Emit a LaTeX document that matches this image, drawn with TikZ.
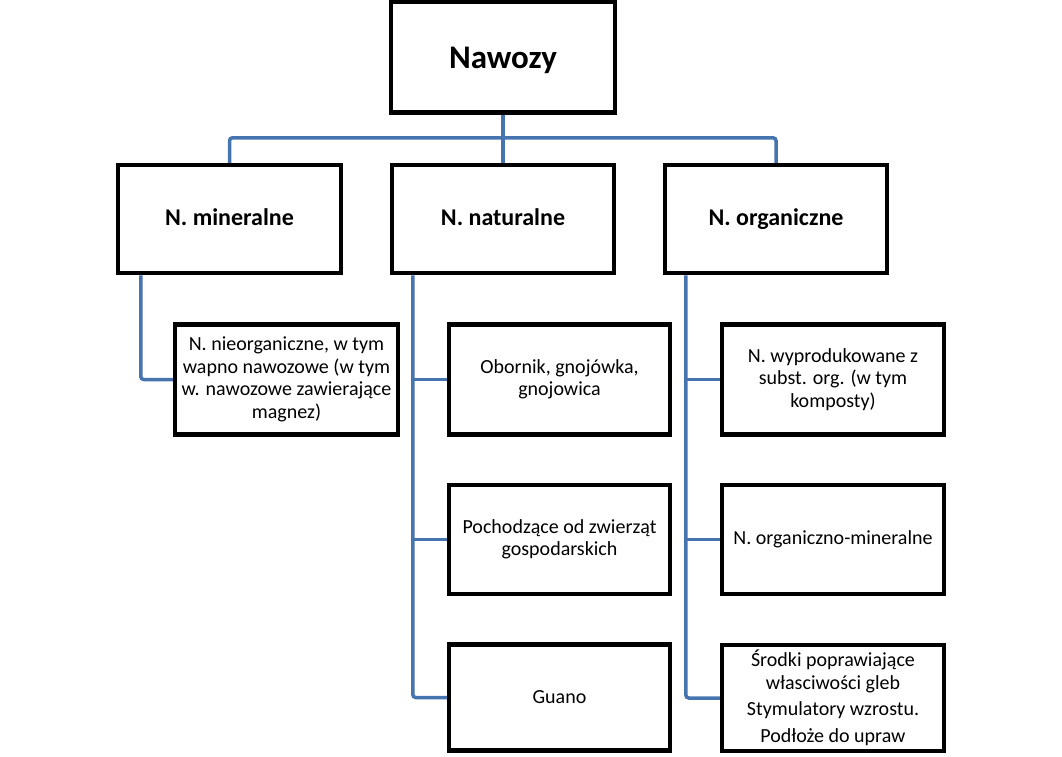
\documentclass[tikz,border=0pt]{standalone}
\usepackage{fontspec}
\setmainfont{Carlito}
\definecolor{linkblue}{HTML}{4674AE}
\pgfdeclarelayer{bg}
\pgfsetlayers{bg,main}
\begin{document}
\begin{tikzpicture}[x=1pt,y=-1pt,
  box/.style={draw=black,line width=4.5pt,fill=white,align=center,inner sep=1pt},
  top/.style={box,font=\fontsize{33}{38}\selectfont\bfseries,text height=25pt,text depth=1pt},
  mid/.style={box,font=\fontsize{24}{28}\selectfont\bfseries,text height=17pt,text depth=4pt},
  leaf/.style={box,font=\fontsize{20}{22.5}\selectfont},
  conn/.style={draw=linkblue,line width=3.5pt,rounded corners=3pt}]
\useasboundingbox (0,0) rectangle (1062,757);
% nodes
\node[top,minimum width=224pt,minimum height=111pt] (root) at (503,57) {Nawozy};
\node[mid,minimum width=223pt,minimum height=108pt] (min) at (229.5,219) {N. mineralne};
\node[mid,minimum width=222pt,minimum height=108pt] (nat) at (503,219) {N. naturalne};
\node[mid,minimum width=222pt,minimum height=108pt] (org) at (776,219) {N. organiczne};
\node[leaf,minimum width=223pt,minimum height=110pt] (m1) at (286.5,379.5) {N. nieorganiczne, w tym\\wapno nawozowe (w tym\\w. nawozowe zawierające\\magnez)};
\node[leaf,minimum width=221pt,minimum height=110pt] (n1) at (559.5,379.5) {Obornik, gnojówka,\\gnojowica};
\node[leaf,minimum width=221pt,minimum height=109pt] (n2) at (559.5,539.5) {Pochodzące od zwierząt\\gospodarskich};
\node[leaf,minimum width=221pt,minimum height=106pt] (n3) at (559.5,697.5) {Guano};
\node[leaf,minimum width=222pt,minimum height=110pt] (o1) at (833,379.5) {N. wyprodukowane z\\subst. org. (w tym\\komposty)};
\node[leaf,minimum width=222pt,minimum height=109pt] (o2) at (833,539.5) {N. organiczno-mineralne};
\node[leaf,minimum width=222pt,minimum height=106pt] (o3) at (833,698) {Środki poprawiające\\własciwości gleb\\[4pt]Stymulatory wzrostu.\\[4pt]Podłoże do upraw};
% trunks
\coordinate (mt) at ([xshift=25pt]min.south west);
\coordinate (nt) at ([xshift=23pt]nat.south west);
\coordinate (ot) at ([xshift=23pt]org.south west);
% connectors
\begin{pgfonlayer}{bg}
\path[conn] (min.north) -- ++(0,-25) -| (org.north);
\path[conn] (root.south) -- (nat.north);
\path[conn] (mt) |- (m1.west);
\path[conn] (nt) |- (n3.west);
\path[conn] (n1.west) -- (n1.west -| nt);
\path[conn] (n2.west) -- (n2.west -| nt);
\path[conn] (ot) |- (o3.west);
\path[conn] (o1.west) -- (o1.west -| ot);
\path[conn] (o2.west) -- (o2.west -| ot);
\end{pgfonlayer}
\end{tikzpicture}
\end{document}
